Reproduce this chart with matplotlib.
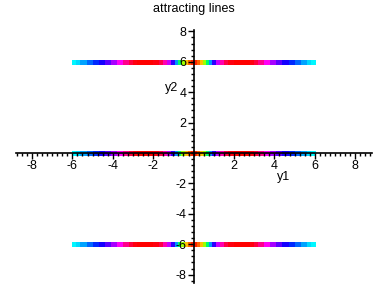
import colorsys
import numpy as np
import matplotlib
matplotlib.use("Agg")
import matplotlib.pyplot as plt
from matplotlib.collections import LineCollection
from matplotlib.ticker import MultipleLocator, FixedLocator

# solution curves (horizontal lines) and colour along them
niveis = [6, 0, -6]
pos_abs = [0.0, 0.15, 0.3, 0.45, 0.6, 0.75, 0.9, 1.1, 1.3, 1.5, 1.7,
           2.0, 2.4, 2.8, 3.0, 3.2, 3.5, 3.8, 4.1, 4.4, 4.7, 5.0, 5.3, 5.6, 5.8, 6.0]
matiz = [0.0, 0.04, 0.09, 0.16, 0.3, 0.5, 0.64, 0.75, 0.84, 0.93, 0.98,
         1.0, 1.0, 1.0, 0.98, 0.94, 0.88, 0.8, 0.75, 0.7, 0.66, 0.62, 0.58, 0.54, 0.51, 0.5]

titulo = "attracting lines"
marcas_x = [-8, -6, -4, -2, 2, 4, 6, 8]
marcas_y = [-8, -6, -4, -2, 2, 4, 6, 8]

plt.rcParams['font.family'] = ['Liberation Sans', 'DejaVu Sans']

fig = plt.figure(figsize=(3.88, 2.88), dpi=100)
ax = fig.add_axes([16 / 388, 1 - 283 / 288, (372 - 16) / 388, (283 - 30) / 288])
ax.set_xlim(-8.79, 8.83)
ax.set_ylim(-8.55, 8.09)

xs = [-p for p in pos_abs[::-1]] + pos_abs[1:]
hs = matiz[::-1] + matiz[1:]
for nivel in niveis:
    segs = []
    cores = []
    for i in range(len(xs) - 1):
        segs.append([(xs[i], nivel), (xs[i + 1], nivel)])
        h = (hs[i] + hs[i + 1]) / 2
        cores.append(colorsys.hsv_to_rgb(h % 1.0, 1.0, 1.0))
    lc = LineCollection(segs, colors=cores, linewidths=2.3, capstyle='butt',
                        antialiaseds=False, zorder=2)
    ax.add_collection(lc)

for lado in ['top', 'right']:
    ax.spines[lado].set_visible(False)
ax.spines['left'].set_position(('data', 0))
ax.spines['bottom'].set_position(('data', 0))
ax.spines['left'].set_linewidth(1.2)
ax.spines['bottom'].set_linewidth(1.2)
ax.set_axisbelow(False)

ax.xaxis.set_major_locator(FixedLocator(marcas_x))
ax.yaxis.set_major_locator(FixedLocator(marcas_y))
ax.xaxis.set_minor_locator(MultipleLocator(0.25))
ax.yaxis.set_minor_locator(MultipleLocator(0.4))
ax.set_xticklabels([str(v) for v in marcas_x])
ax.set_yticklabels([str(v) for v in marcas_y])
ax.tick_params(which='major', direction='out', length=4, width=1, labelsize=9, pad=1)
ax.tick_params(which='minor', direction='out', length=2.2, width=1)

ax.text(4.43, -1.55, "y1", fontsize=9, ha='center', va='center')
ax.text(-1.1, 4.28, "y2", fontsize=9, ha='center', va='center')
fig.text(194 / 388, 1 - 9 / 288, titulo, fontsize=9, ha='center', va='center')

fig.savefig("out.png", dpi=100)
